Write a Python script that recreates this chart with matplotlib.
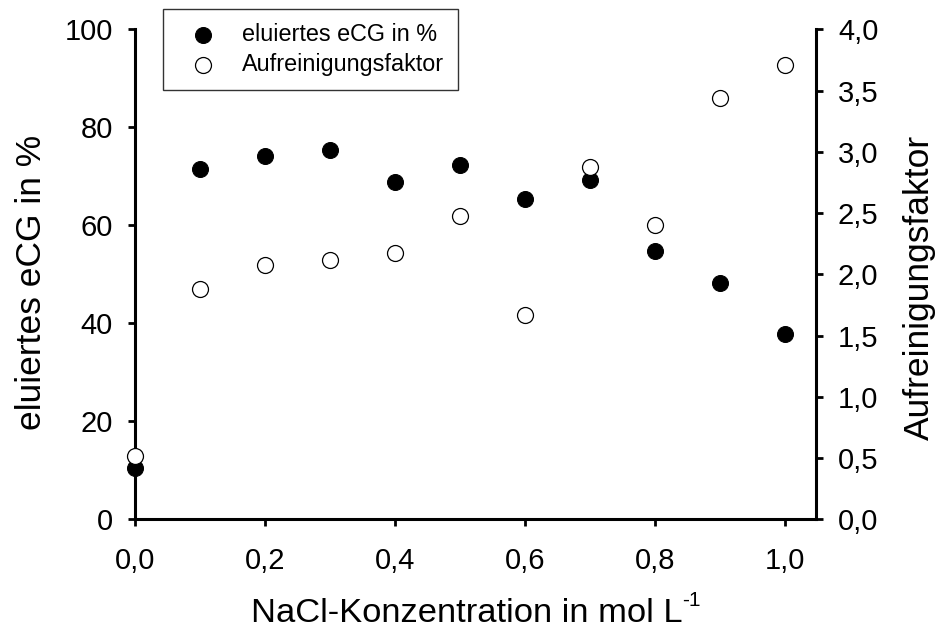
import numpy as np
import matplotlib
matplotlib.use("Agg")
import matplotlib.pyplot as plt
from matplotlib.ticker import FuncFormatter, MultipleLocator

plt.rcParams['font.family'] = ['Liberation Sans', 'DejaVu Sans']

# NaCl concentration (mol/L)
nacl = [0.0, 0.1, 0.2, 0.3, 0.4, 0.5, 0.6, 0.7, 0.8, 0.9, 1.0]
# eluted eCG in %
eluiert = [10.5, 71.5, 74.1, 75.4, 68.9, 72.3, 65.4, 69.2, 54.8, 48.2, 37.8]
# purification factor
faktor = [0.52, 1.88, 2.08, 2.12, 2.17, 2.48, 1.67, 2.88, 2.40, 3.44, 3.71]

def komma(fmt):
    return FuncFormatter(lambda v, p: fmt.format(v).replace('.', ','))

fig = plt.figure(figsize=(9.37, 6.32), dpi=100)
ax = fig.add_axes([0.1441, 0.1783, 0.7264, 0.7753])
ax2 = ax.twinx()

h1 = ax.scatter(nacl, eluiert, s=132, color='black', edgecolors='black',
                linewidths=0.75, clip_on=False, zorder=3, label='eluiertes eCG in %')
h2 = ax2.scatter(nacl, faktor, s=132, color='white', edgecolors='black',
                 linewidths=0.9, clip_on=False, zorder=3, label='Aufreinigungsfaktor')

ax.set_xlim(0, 1.047)
ax.set_ylim(0, 100)
ax2.set_ylim(0, 4.0)

ax.xaxis.set_major_locator(MultipleLocator(0.2))
ax.yaxis.set_major_locator(MultipleLocator(20))
ax2.yaxis.set_major_locator(MultipleLocator(0.5))
ax.xaxis.set_major_formatter(komma('{:.1f}'))
ax.yaxis.set_major_formatter(komma('{:.0f}'))
ax2.yaxis.set_major_formatter(komma('{:.1f}'))

for a in (ax, ax2):
    a.spines['top'].set_visible(False)
    for s in a.spines.values():
        s.set_linewidth(2.2)
ax.spines['right'].set_visible(False)
ax2.spines['left'].set_visible(False)
ax2.spines['bottom'].set_visible(False)

ax.tick_params(axis='both', direction='out', length=5, width=2, labelsize=21)
ax.tick_params(axis='y', pad=11)
ax.tick_params(axis='x', pad=15)
ax2.tick_params(axis='y', direction='out', length=5, width=2, labelsize=21, pad=11)

ax.set_ylabel('eluiertes eCG in %', fontsize=25.5)
ax.yaxis.set_label_coords(-0.128, 0.484)
ax2.set_ylabel('Aufreinigungsfaktor', fontsize=25.5)
ax2.yaxis.set_label_coords(1.128, 0.473)
xl = ax.set_xlabel('NaCl-Konzentration in mol L', fontsize=24.8)
ax.xaxis.set_label_coords(0.487, -0.160)
ax.annotate('-1', xy=(1, 1), xycoords=xl, xytext=(0, -6.2), textcoords='offset points',
            ha='left', va='baseline', fontsize=15)

leg = fig.legend(handles=[h1, h2], loc='upper left',
                 bbox_to_anchor=(162.7 / 937, 1 - 9 / 632), bbox_transform=fig.transFigure,
                 fontsize=16.8, frameon=True, fancybox=False, edgecolor='black',
                 borderaxespad=0, handlelength=2.23, handletextpad=0.56, borderpad=0.6,
                 labelspacing=0.32, scatterpoints=1, markerscale=1.0)
leg.get_frame().set_linewidth(1.0)

fig.savefig('out.png', dpi=100)
